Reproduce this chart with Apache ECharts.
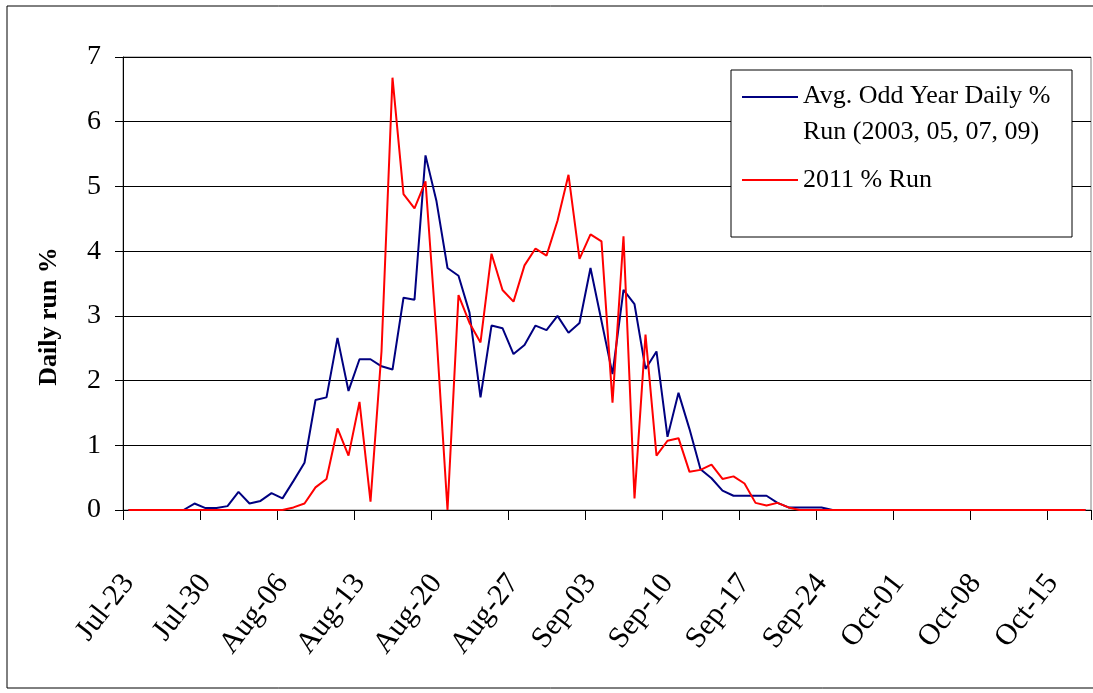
<!DOCTYPE html>
<html>
<head>
<meta charset="utf-8">
<script src="https://cdn.jsdelivr.net/npm/echarts@6/dist/echarts.min.js"></script>
<style>
html, body { margin: 0; padding: 0; background: #fff; }
#chart { width: 1093px; height: 693px; }
</style>
</head>
<body>
<div id="chart"></div>
<script>
// one category per day, Jul-23 to Oct-18
var categories = [
    'Jul-23','Jul-24','Jul-25','Jul-26','Jul-27','Jul-28','Jul-29','Jul-30','Jul-31',
    'Aug-01','Aug-02','Aug-03','Aug-04','Aug-05','Aug-06','Aug-07','Aug-08','Aug-09','Aug-10',
    'Aug-11','Aug-12','Aug-13','Aug-14','Aug-15','Aug-16','Aug-17','Aug-18','Aug-19','Aug-20',
    'Aug-21','Aug-22','Aug-23','Aug-24','Aug-25','Aug-26','Aug-27','Aug-28','Aug-29','Aug-30','Aug-31',
    'Sep-01','Sep-02','Sep-03','Sep-04','Sep-05','Sep-06','Sep-07','Sep-08','Sep-09','Sep-10',
    'Sep-11','Sep-12','Sep-13','Sep-14','Sep-15','Sep-16','Sep-17','Sep-18','Sep-19','Sep-20',
    'Sep-21','Sep-22','Sep-23','Sep-24','Sep-25','Sep-26','Sep-27','Sep-28','Sep-29','Sep-30',
    'Oct-01','Oct-02','Oct-03','Oct-04','Oct-05','Oct-06','Oct-07','Oct-08','Oct-09','Oct-10',
    'Oct-11','Oct-12','Oct-13','Oct-14','Oct-15','Oct-16','Oct-17','Oct-18'
];

// Avg. odd year daily % run (2003, 05, 07, 09)
var oddYearAvg = [
    0, 0, 0, 0, 0, 0, 0.10, 0.03, 0.03, 0.06,
    0.28, 0.10, 0.14, 0.26, 0.18, 0.45, 0.73, 1.70, 1.74, 2.66,
    1.84, 2.33, 2.33, 2.22, 2.17, 3.28, 3.25, 5.48, 4.77, 3.74,
    3.62, 3.05, 1.74, 2.85, 2.81, 2.41, 2.55, 2.85, 2.78, 3.00,
    2.74, 2.89, 3.74, 2.92, 2.10, 3.40, 3.18, 2.18, 2.45, 1.13,
    1.81, 1.25, 0.63, 0.49, 0.30, 0.22, 0.22, 0.22, 0.22, 0.11,
    0.04, 0.04, 0.04, 0.04, 0, 0, 0, 0, 0, 0,
    0, 0, 0, 0, 0, 0, 0, 0, 0, 0,
    0, 0, 0, 0, 0, 0, 0, 0
];

// 2011 % run
var run2011 = [
    0, 0, 0, 0, 0, 0, 0, 0, 0, 0,
    0, 0, 0, 0, 0, 0.04, 0.10, 0.35, 0.48, 1.26,
    0.84, 1.67, 0.13, 2.45, 6.68, 4.88, 4.66, 5.08, 2.70, 0,
    3.32, 2.89, 2.59, 3.96, 3.40, 3.22, 3.78, 4.04, 3.93, 4.47,
    5.18, 3.88, 4.26, 4.15, 1.66, 4.23, 0.18, 2.71, 0.84, 1.07,
    1.11, 0.59, 0.62, 0.70, 0.48, 0.52, 0.41, 0.11, 0.07, 0.11,
    0.04, 0, 0, 0, 0, 0, 0, 0, 0, 0,
    0, 0, 0, 0, 0, 0, 0, 0, 0, 0,
    0, 0, 0, 0, 0, 0, 0, 0
];

var seriesNames = ['Avg. Odd Year Daily %\nRun (2003, 05, 07, 09)', '2011 % Run'];
var seriesColors = ['#000080', '#ff0000'];

var serif = "'Liberation Serif', 'Times New Roman', serif";

var chart = echarts.init(document.getElementById('chart'));

var option = {
    animation: false,
    backgroundColor: '#fff',
    grid: {
        left: 123,
        top: 57,
        right: 2,
        bottom: 183,
        show: true,
        borderColor: '#808080',
        borderWidth: 1,
        outerBoundsMode: 'none'
    },
    legend: {
        orient: 'vertical',
        left: 742,
        top: 78,
        padding: 0,
        itemGap: 12,
        itemWidth: 56,
        itemHeight: 36,
        selectedMode: false,
        textStyle: { fontFamily: serif, fontSize: 26, color: '#000', lineHeight: 36 },
        data: [
            // icon line sits on the first text row
            { name: seriesNames[0], icon: 'path://M0,0L56,0L56,2L0,2Z M0,36L0.1,36' },
            { name: seriesNames[1], icon: 'path://M0,0L0.1,0 M0,17L56,17L56,19L0,19Z M0,36L0.1,36' }
        ]
    },
    xAxis: {
        type: 'category',
        data: categories,
        boundaryGap: true,
        axisLine: { lineStyle: { color: '#000', width: 1 } },
        axisTick: { show: true, interval: 6, length: 10, lineStyle: { color: '#000', width: 1 } },
        axisLabel: {
            interval: 6,
            rotate: 52,
            margin: 68,
            align: 'right',
            fontFamily: serif,
            fontSize: 30,
            color: '#000'
        },
        splitLine: { show: false }
    },
    yAxis: {
        type: 'value',
        min: 0,
        max: 7,
        interval: 1,
        name: 'Daily run %',
        nameLocation: 'middle',
        nameGap: 61,
        nameRotate: 90,
        nameTextStyle: {
            fontFamily: serif,
            fontSize: 26,
            fontWeight: 'bold',
            color: '#000',
            padding: [0, 66, 0, 0]
        },
        axisLine: { show: true, lineStyle: { color: '#000', width: 1 } },
        axisTick: { show: true, length: 8, lineStyle: { color: '#000', width: 1 } },
        axisLabel: { margin: 22, fontFamily: serif, fontSize: 28, color: '#000' },
        splitLine: { lineStyle: { color: '#000', width: 1 } }
    },
    graphic: [
        // legend frame
        {
            type: 'rect',
            z: 3,
            shape: { x: 731, y: 70, width: 341, height: 167 },
            style: { fill: '#fff', stroke: '#000', lineWidth: 1 }
        },
        // outer chart frame
        {
            type: 'rect',
            z: 10,
            shape: { x: 7, y: 6, width: 1100, height: 682 },
            style: { fill: 'none', stroke: '#000', lineWidth: 1 }
        }
    ],
    series: [
        {
            name: seriesNames[0],
            type: 'line',
            data: oddYearAvg,
            symbol: 'none',
            color: seriesColors[0],
            lineStyle: { color: seriesColors[0], width: 2 }
        },
        {
            name: seriesNames[1],
            type: 'line',
            data: run2011,
            symbol: 'none',
            color: seriesColors[1],
            lineStyle: { color: seriesColors[1], width: 2 }
        }
    ]
};

chart.setOption(option);
</script>
</body>
</html>
